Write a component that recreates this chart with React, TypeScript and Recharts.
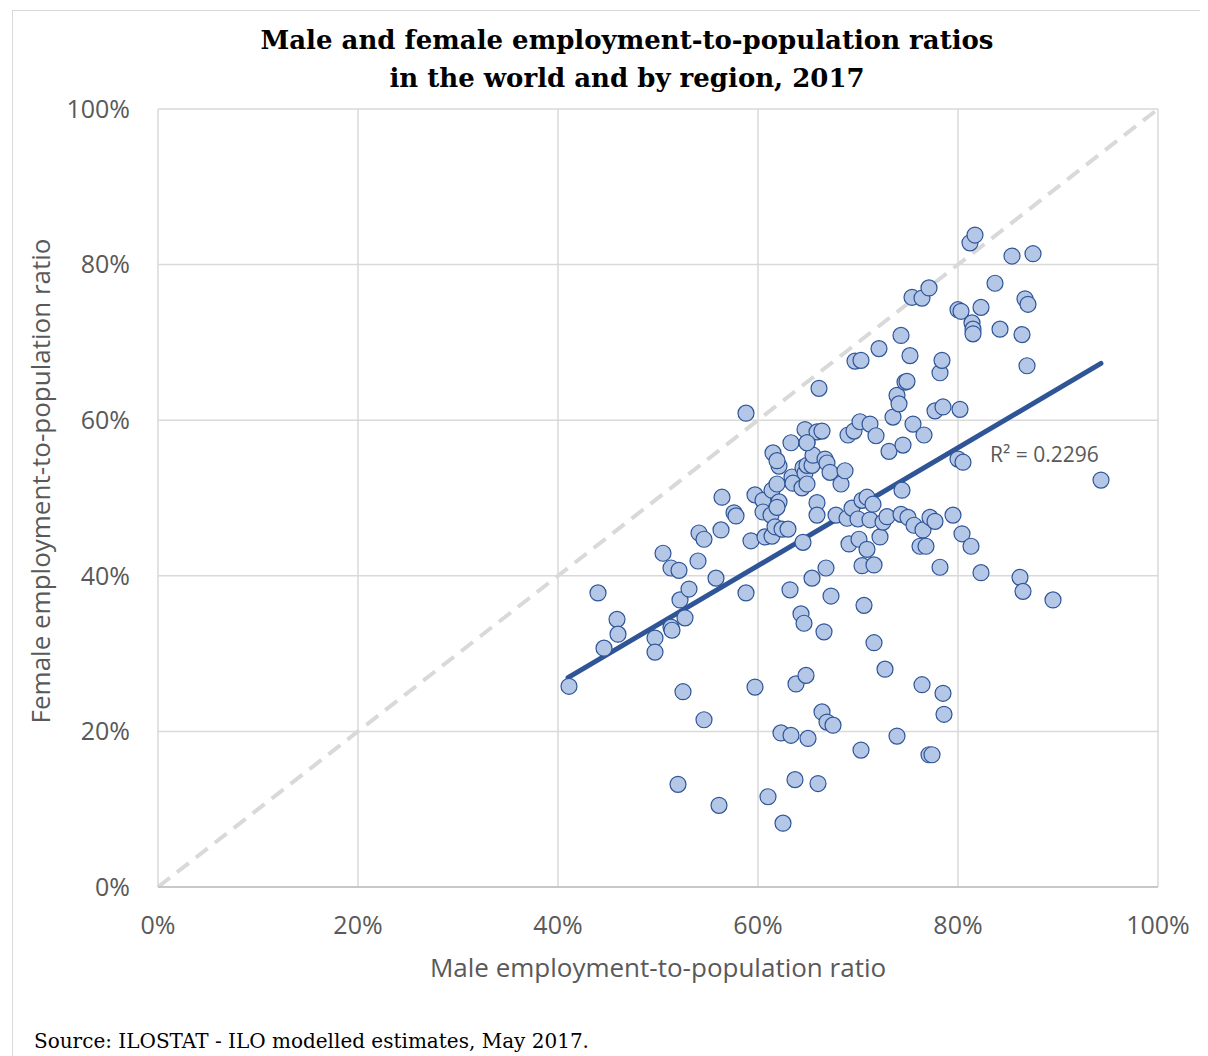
import React from 'react';
import { ScatterChart, Scatter, XAxis, YAxis, CartesianGrid, ReferenceLine } from 'recharts';

// male / female employment-to-population ratios (%), one entry per country/region
const maleRatio = [
  41.1, 44.0, 44.6, 45.9, 46.0, 49.7, 49.7, 50.5, 51.3, 51.3, 51.4, 52.1, 52.2, 52.5, 52.0, 52.7,
  53.1, 54.0, 54.1, 54.6, 54.6, 55.8, 56.3, 56.4, 56.1, 57.6, 57.8, 58.8, 58.8, 59.3, 59.7, 59.7,
  60.5, 60.5, 60.7, 61.0, 61.4, 61.4, 61.5, 61.3, 61.7, 62.4, 63.0, 61.9, 62.1, 61.9, 62.1, 61.9,
  62.3, 62.5, 63.3, 63.4, 63.5, 63.3, 63.2, 63.7, 63.8, 64.4, 64.5, 64.5, 64.3, 64.6, 64.7, 64.7,
  64.9, 64.9, 64.9, 64.8, 65.0, 65.4, 65.5, 65.4, 65.9, 65.9, 65.9, 66.1, 66.0, 66.4, 66.4, 66.6,
  66.7, 66.9, 66.8, 66.9, 67.2, 67.3, 67.5, 67.8, 68.3, 68.7, 68.9, 69.0, 69.1, 69.4, 69.6, 69.7,
  70.0, 70.1, 70.2, 70.3, 70.3, 70.4, 70.4, 70.6, 70.9, 70.9, 71.2, 71.2, 71.5, 71.6, 71.6, 71.8,
  72.1, 72.2, 72.5, 72.7, 72.9, 73.1, 73.5, 73.9, 73.9, 74.1, 74.3, 74.3, 74.4, 74.5, 74.7, 74.9,
  75.0, 75.2, 75.5, 75.6, 75.4, 76.4, 77.1, 76.2, 76.8, 76.5, 76.4, 76.6, 77.1, 77.4, 77.2, 77.7,
  77.7, 78.2, 78.4, 78.5, 78.2, 78.5, 78.6, 79.5, 80.0, 80.5, 80.0, 80.3, 80.2, 80.4, 81.2, 81.7,
  81.3, 81.4, 81.5, 81.5, 82.3, 82.3, 83.7, 84.2, 85.4, 86.2, 86.4, 86.5, 86.7, 87.0, 86.9, 87.5,
  89.5, 94.3, 64.9,
];

const femaleRatio = [
  25.8, 37.8, 30.7, 34.4, 32.5, 32.0, 30.2, 42.9, 41.0, 33.4, 33.0, 40.7, 36.9, 25.1, 13.2, 34.6,
  38.3, 41.9, 45.5, 44.7, 21.5, 39.7, 45.9, 50.1, 10.5, 48.1, 47.7, 37.8, 60.9, 44.5, 50.4, 25.7,
  49.7, 48.2, 45.0, 11.6, 45.1, 51.0, 55.8, 47.8, 46.3, 46.0, 46.0, 51.8, 49.5, 48.8, 54.1, 54.8,
  19.8, 8.2, 57.1, 52.7, 51.9, 19.5, 38.2, 13.8, 26.1, 51.3, 53.9, 44.3, 35.1, 33.9, 58.8, 53.2,
  57.1, 54.2, 51.8, 27.2, 19.1, 54.2, 55.5, 39.7, 58.5, 49.4, 47.8, 64.1, 13.3, 58.6, 22.5, 32.8,
  55.0, 54.5, 41.0, 21.2, 53.3, 37.4, 20.8, 47.8, 51.8, 53.5, 47.4, 58.1, 44.1, 48.7, 58.6, 67.6,
  47.3, 44.7, 59.8, 67.7, 17.6, 49.7, 41.3, 36.2, 50.1, 43.4, 59.5, 47.2, 49.2, 41.4, 31.4, 58.0,
  69.2, 45.0, 46.9, 28.0, 47.6, 56.0, 60.4, 63.2, 19.4, 62.1, 70.9, 47.9, 51.0, 56.8, 64.9, 65.0,
  47.5, 68.3, 59.5, 46.5, 75.8, 75.7, 77.0, 43.8, 43.8, 45.9, 26.0, 58.1, 17.0, 17.0, 47.5, 47.0,
  61.2, 66.1, 67.7, 61.7, 41.1, 24.9, 22.2, 47.8, 55.0, 54.6, 74.2, 74.0, 61.4, 45.4, 82.8, 83.8,
  43.8, 72.5, 71.7, 71.1, 74.5, 40.4, 77.6, 71.7, 81.1, 39.8, 71.0, 38.0, 75.6, 74.9, 67.0, 81.4,
  36.9, 52.3, 57.1,
];

// linear trendline end points as drawn
const trendMale = [41.0, 94.3];
const trendFemale = [26.9, 67.3];
const axisTicks = [0, 20, 40, 60, 80, 100];

const points = maleRatio.map((m, i) => ({ x: m, y: femaleRatio[i] }));

const textGray = '#595959';
const sans = '"Open Sans", sans-serif';
const serif = '"DejaVu Serif", serif';

const Dot = (props: any) => (
  <circle cx={props.cx} cy={props.cy} r={8} fill="#b4c7e7" stroke="#2f5597" strokeWidth={1.2} />
);

export default function App() {
  return (
    <div style={{ position: 'relative', width: 1200, height: 1048, overflow: 'hidden', background: '#fff' }}>
      <div
        style={{
          position: 'absolute', left: 4, top: 2, width: 1300, height: 1200,
          border: '1px solid #d9d9d9',
        }}
      />
      <div
        style={{
          position: 'absolute', left: 0, width: 1238, top: 13, textAlign: 'center',
          fontFamily: serif, fontWeight: 'bold', fontSize: 26, lineHeight: '38px', color: '#000',
        }}
      >
        Male and female employment-to-population ratios
        <br />
        in the world and by region, 2017
      </div>

      <ScatterChart width={1200} height={1040} margin={{ top: 101, right: 50, bottom: 61, left: 80 }}>
        <CartesianGrid stroke="#d9d9d9" strokeWidth={1.5} />
        <XAxis
          type="number"
          dataKey="x"
          domain={[0, 100]}
          ticks={axisTicks}
          tickFormatter={(v) => `${v}%`}
          height={100}
          tickLine={false}
          tickSize={0}
          tickMargin={29}
          axisLine={{ stroke: '#bfbfbf', strokeWidth: 1.5 }}
          tick={{ fill: textGray, fontSize: 25, fontFamily: sans }}
        />
        <YAxis
          type="number"
          dataKey="y"
          domain={[0, 100]}
          ticks={axisTicks}
          tickFormatter={(v) => `${v}%`}
          width={70}
          tickLine={false}
          axisLine={false}
          tickSize={0}
          tickMargin={28}
          tick={{ fill: textGray, fontSize: 25, fontFamily: sans }}
        />
        <ReferenceLine
          segment={[{ x: 0, y: 0 }, { x: 100, y: 100 }]}
          stroke="#d9d9d9"
          strokeWidth={4}
          strokeDasharray="15 9"
        />
        <Scatter data={points} shape={Dot} isAnimationActive={false} />
        <ReferenceLine
          segment={[
            { x: trendMale[0], y: trendFemale[0] },
            { x: trendMale[1], y: trendFemale[1] },
          ]}
          stroke="#2f5597"
          strokeWidth={5}
          strokeLinecap="round"
        />
      </ScatterChart>

      <div
        style={{
          position: 'absolute', left: 982, top: 432, fontFamily: sans, fontSize: 21, color: textGray,
        }}
      >
        R² = 0.2296
      </div>

      <div
        style={{
          position: 'absolute', left: 150, width: 1000, top: 941, textAlign: 'center',
          fontFamily: sans, fontSize: 26, color: textGray,
        }}
      >
        Male employment-to-population ratio
      </div>
      <div
        style={{
          position: 'absolute', left: 32, top: 473, width: 0, height: 0,
        }}
      >
        <div
          style={{
            position: 'absolute', left: 0, top: 0, transform: 'translate(-50%, -50%) rotate(-90deg)',
            whiteSpace: 'nowrap', fontFamily: sans, fontSize: 26, color: textGray,
          }}
        >
          Female employment-to-population ratio
        </div>
      </div>

      <div
        style={{
          position: 'absolute', left: 26, top: 1021, fontFamily: serif, fontSize: 20, color: '#000',
        }}
      >
        Source: ILOSTAT - ILO modelled estimates, May 2017.
      </div>
    </div>
  );
}
